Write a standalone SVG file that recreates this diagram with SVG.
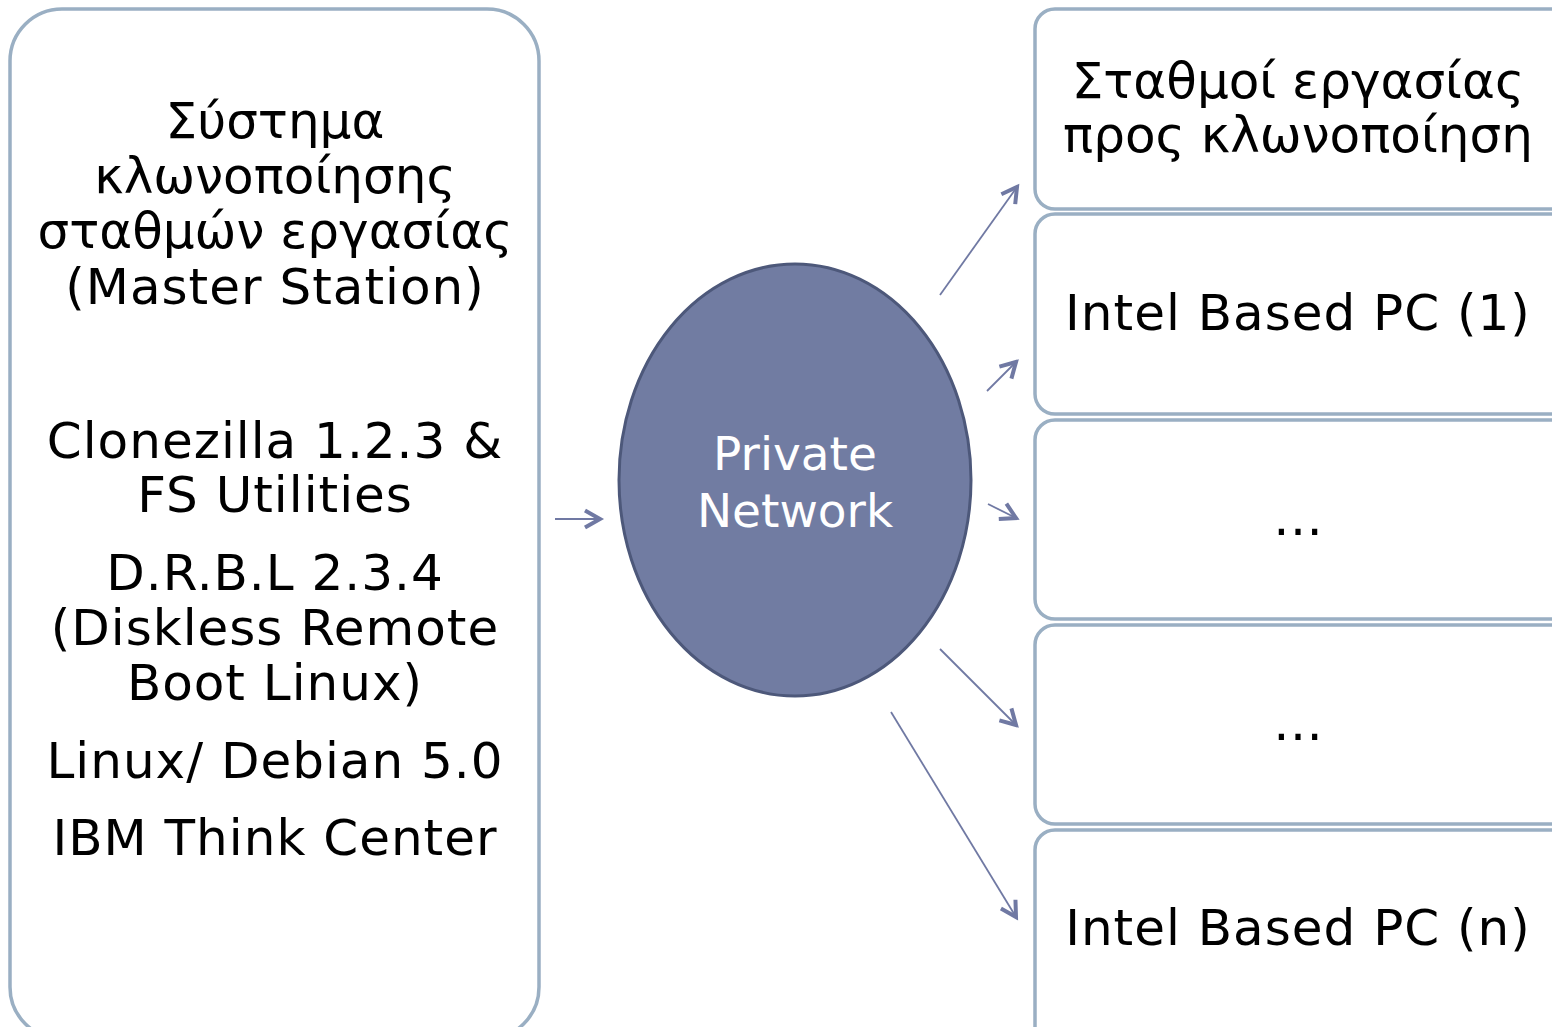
<svg xmlns="http://www.w3.org/2000/svg" width="1552" height="1027" viewBox="0 0 1552 1027">
<style>
.box{fill:#ffffff;stroke:#9AAFC3;stroke-width:3.5}
.t{font-family:"DejaVu Sans","Verdana",sans-serif;font-size:50px;fill:#000000;text-anchor:middle}
.l{letter-spacing:1px}
.w{font-family:"DejaVu Sans","Verdana",sans-serif;font-size:47px;fill:#ffffff;text-anchor:middle}
.c{stroke:#7079A3;stroke-width:1.8;fill:none;marker-end:url(#ah)}
</style>
<defs>
<marker id="ah" markerUnits="userSpaceOnUse" markerWidth="30" markerHeight="30" viewBox="-20 -15 30 30" refX="0" refY="0" orient="auto">
<path d="M-15,-8.5 L0,0 L-15,8.5" fill="none" stroke="#7079A3" stroke-width="4"/>
</marker>
</defs>
<rect width="1552" height="1027" fill="#ffffff"/>
<g id="master">
<rect class="box" x="10" y="9" width="529" height="1030" rx="52" ry="52"/>
<text class="t" x="275" y="138">Σύστημα</text>
<text class="t" x="275" y="193">κλωνοποίησης</text>
<text class="t" x="275" y="248">σταθμών εργασίας</text>
<text class="t l" x="275" y="304">(Master Station)</text>
<text class="t l" x="275" y="458">Clonezilla 1.2.3 &amp;</text>
<text class="t l" x="275" y="512">FS Utilities</text>
<text class="t l" x="275" y="590">D.R.B.L 2.3.4</text>
<text class="t l" x="275" y="645">(Diskless Remote</text>
<text class="t l" x="275" y="700">Boot Linux)</text>
<text class="t l" x="275" y="778">Linux/ Debian 5.0</text>
<text class="t l" x="275" y="855">IBM Think Center</text>
</g>
<g id="network">
<ellipse cx="795" cy="480" rx="176" ry="216" fill="#717CA2" stroke="#4D587A" stroke-width="3"/>
<text class="w" x="795" y="470">Private</text>
<text class="w" x="795" y="527">Network</text>
</g>
<g id="header">
<rect class="box" x="1035" y="9" width="540" height="200" rx="20" ry="20"/>
<text class="t" x="1298" y="98">Σταθμοί εργασίας</text>
<text class="t" x="1298" y="152">προς κλωνοποίηση</text>
</g>
<g id="pc1">
<rect class="box" x="1035" y="214" width="540" height="200" rx="20" ry="20"/>
<text class="t l" x="1298" y="330">Intel Based PC (1)</text>
</g>
<g id="pc2">
<rect class="box" x="1035" y="420" width="540" height="199" rx="20" ry="20"/>
<text class="t" x="1298" y="535">…</text>
</g>
<g id="pc3">
<rect class="box" x="1035" y="625" width="540" height="199" rx="20" ry="20"/>
<text class="t" x="1298" y="740">…</text>
</g>
<g id="pcn">
<rect class="box" x="1035" y="830" width="540" height="220" rx="20" ry="20"/>
<text class="t l" x="1298" y="945">Intel Based PC (n)</text>
</g>
<g id="connectors">
<line class="c" x1="555" y1="519" x2="600" y2="519"/>
<line class="c" x1="940" y1="295" x2="1017" y2="187"/>
<line class="c" x1="987" y1="391" x2="1016" y2="362"/>
<line class="c" x1="988" y1="504" x2="1016" y2="518"/>
<line class="c" x1="940" y1="649" x2="1016" y2="725"/>
<line class="c" x1="891" y1="712" x2="1016" y2="917"/>
</g>
</svg>
